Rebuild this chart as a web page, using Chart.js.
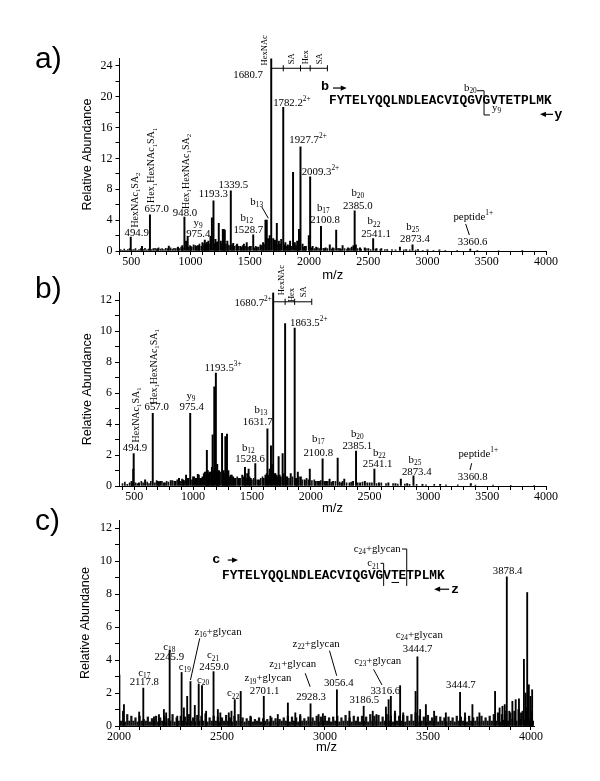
<!DOCTYPE html>
<html><head><meta charset="utf-8">
<script src="https://cdn.jsdelivr.net/npm/chart.js@4.4.1/dist/chart.umd.min.js"></script>
<style>
html,body{margin:0;padding:0;background:#fff;}
#wrap{position:relative;width:600px;height:781px;}
canvas{position:absolute;left:0;top:0;}
</style></head>
<body><div id="wrap">
<canvas id="ca" width="600" height="781"></canvas>
<canvas id="cb" width="600" height="781"></canvas>
<canvas id="cc" width="600" height="781"></canvas>
</div>
<script>
// ---------------- DATA ----------------
// panel a
const aPeakMz = [494.9,590,657.0,720,816,894,930,948.0,962,975.4,1000,1040,1069,1100,1120,1134,1150,1168,1180,1193.3,1210,1225,1238,1255,1272,1281,1289,1310,1339.5,1360,1393,1420,1450,1474,1500,1528.7,1560,1590,1612,1632,1643,1655,1668,1680.7,1697,1712,1728,1745,1765,1782.2,1800,1820,1840,1865,1880,1900,1915,1927.7,1945,1965,1998,2009.3,2030,2060,2100.8,2140,2175,2200,2229,2260,2283,2330,2360,2375,2385.0,2395,2430,2470,2500,2541.1,2570,2610,2660,2767,2820,2873.4,2920,3000,3100,3360.6];
const aPeakInt = [1.8,0.6,4.7,0.3,0.65,0.5,0.7,4.4,1.3,1.9,0.6,0.7,0.7,1.1,1.4,1.1,1.3,1.9,4.3,6.5,1.5,1.2,3.6,1.3,2.8,2.8,2.7,1.3,7.8,1.0,0.9,0.6,0.9,1.1,0.6,2.1,0.5,0.8,1.1,4.0,4.0,1.6,2.0,24.9,1.6,1.4,3.6,1.3,1.5,18.6,1.1,0.8,1.3,10.2,1.1,1.3,2.8,13.5,0.9,0.6,2.0,9.6,0.6,0.5,3.2,0.4,0.8,0.4,2.7,0.3,0.7,0.4,0.5,0.7,5.2,0.8,0.4,0.4,0.3,1.6,0.3,0.3,0.2,0.5,0.2,0.8,0.2,0.15,0.15,0.25];
const aNoiseMz = [410,425,440,455,470,485,505,520,535,550,565,580,600,615,630,645,670,685,700,715,730,745,760,775,790,805,830,845,860,875,890,905,920,935,985,995,1010,1025,1050,1060,1075,1090,1105,1115,1125,1140,1155,1200,1215,1230,1262,1298,1315,1325,1350,1370,1385,1405,1430,1440,1460,1485,1510,1540,1550,1575,1600,1620,1705,1720,1740,1755,1790,1810,1830,1850,1890,1905,1955,1975,2020,2045,2075,2090,2120,2130,2155,2190,2210,2245,2270,2300,2320,2345,2410,2440,2480,2520,2560,2600,2640,2700,2730,2800,2850,2900,2960,3050,3150,3250,3420,3600,3800];
const aNoiseInt = [0.2,0.1,0.25,0.1,0.2,0.3,0.15,0.2,0.3,0.1,0.2,0.3,0.2,0.35,0.15,0.25,0.2,0.3,0.35,0.2,0.4,0.25,0.3,0.2,0.35,0.3,0.4,0.25,0.35,0.3,0.4,0.3,0.5,0.4,0.5,0.7,0.5,0.8,0.6,0.7,0.9,0.6,0.8,1.0,0.9,1.1,0.9,1.0,1.1,0.9,1.0,0.9,0.8,0.7,0.8,0.6,0.7,0.6,0.5,0.7,0.6,0.5,0.6,0.4,0.6,0.5,0.7,0.9,1.0,0.9,0.8,0.9,0.8,0.6,0.7,0.6,0.7,0.6,0.5,0.6,0.4,0.3,0.4,0.3,0.35,0.3,0.3,0.25,0.3,0.35,0.25,0.3,0.25,0.3,0.3,0.25,0.3,0.2,0.25,0.2,0.2,0.2,0.15,0.15,0.15,0.12,0.1,0.1,0.1,0.08,0.08,0.06,0.05];
// panel b
const bPeakMz = [480,491,494.9,540,592,657.0,700,720,760,810,850,880,915,940,960,975.4,1000,1020,1040,1060,1080,1100,1117,1125,1140,1160,1166,1180,1193.5,1205,1220,1246,1260,1274,1288,1300,1320,1340,1360,1390,1418,1441,1460,1472,1490,1528.6,1560,1600,1615,1631.7,1650,1662,1670,1680.7,1695,1710,1727,1745,1761,1782.2,1800,1830,1863.5,1875,1890,1916,1950,1992,2040,2070,2100.8,2130,2160,2190,2229,2260,2285,2330,2360,2385.1,2420,2460,2500,2541.1,2580,2660,2720,2766,2820,2873.4,2950,3100,3360.8];
const bPeakInt = [0.2,1.1,2.1,0.2,0.4,4.7,0.3,0.3,0.2,0.35,0.3,0.5,0.4,0.7,0.5,4.7,0.6,0.5,0.75,0.5,0.6,0.9,2.3,1.0,0.9,1.2,3.3,6.4,7.3,1.4,1.0,3.4,1.0,3.2,3.35,1.0,0.7,0.6,0.5,0.5,0.7,1.2,0.8,1.1,0.5,1.45,0.4,0.5,0.7,3.7,1.1,2.6,1.4,12.5,0.8,0.7,1.9,0.6,2.1,10.5,0.6,0.8,10.2,0.5,0.9,0.6,0.4,1.1,0.3,0.3,1.75,0.3,0.45,0.3,1.8,0.2,0.45,0.2,0.3,2.25,0.2,0.3,0.2,1.1,0.2,0.2,0.15,0.45,0.15,0.65,0.1,0.1,0.15];
const bNoiseMz = [400,420,440,460,475,510,525,560,575,610,625,640,675,690,710,735,750,775,790,825,840,865,895,905,925,950,990,1010,1030,1050,1070,1090,1110,1132,1150,1172,1200,1212,1230,1253,1267,1280,1295,1310,1330,1350,1375,1400,1430,1450,1480,1500,1515,1545,1575,1590,1625,1640,1700,1718,1737,1770,1790,1815,1845,1880,1900,1930,1965,1980,2010,2030,2055,2085,2115,2145,2175,2210,2245,2270,2305,2345,2400,2440,2480,2520,2560,2600,2640,2700,2740,2800,2840,2900,2980,3050,3150,3250,3400,3550,3700,3900];
const bNoiseInt = [0.15,0.25,0.1,0.2,0.3,0.2,0.15,0.3,0.2,0.25,0.15,0.3,0.2,0.35,0.25,0.3,0.2,0.3,0.25,0.35,0.3,0.4,0.3,0.45,0.35,0.5,0.4,0.6,0.5,0.7,0.5,0.8,0.9,0.8,0.9,1.0,0.9,0.8,0.9,0.7,0.8,0.7,0.9,0.6,0.7,0.5,0.6,0.5,0.6,0.5,0.6,0.4,0.5,0.4,0.5,0.6,0.8,0.7,0.8,0.6,0.7,0.8,0.6,0.5,0.6,0.5,0.6,0.4,0.5,0.4,0.35,0.4,0.3,0.35,0.3,0.3,0.25,0.3,0.25,0.3,0.2,0.25,0.2,0.25,0.2,0.2,0.15,0.2,0.15,0.15,0.12,0.12,0.1,0.1,0.08,0.1,0.08,0.08,0.06,0.06,0.05,0.05];
// panel c
const cPeakMz = [2002,2024,2098,2118,2170,2194,2218,2229,2246,2283,2304,2315,2331,2347,2368,2387,2403,2423,2459,2480,2492,2533,2546,2562,2591,2638,2703,2735,2771,2820,2856,2880,2930,2969,2990,3058,3119,3188,3232,3250,3296,3309,3320,3340,3365,3380,3440,3449,3462,3490,3530,3587,3656,3680,3716,3750,3826,3848,3862,3873,3883,3895,3910,3926,3942,3952,3966,3974,3982,3990,3998,4006];
const cPeakInt = [3.1,1.3,0.85,2.3,0.55,0.7,1.0,0.8,4.6,0.6,3.25,1.1,1.8,2.7,1.25,2.55,2.45,0.9,3.3,1.0,0.8,0.8,0.9,1.6,2.1,0.6,1.8,0.6,0.7,1.4,0.8,0.7,1.35,0.7,0.75,2.2,0.9,1.2,0.9,0.7,1.15,1.6,1.8,0.9,2.45,0.8,2.1,4.2,1.0,1.3,0.9,0.8,2.05,0.8,1.3,0.8,2.1,1.1,1.2,1.3,9.05,0.9,1.5,1.6,1.65,0.8,4.05,2.0,8.1,2.5,1.8,2.2];
const cNoiseMz = [
2000,2010,2020,2030,2040,2050,2060,2070,2080,2090,2100,2110,2120,2130,2140,2150,2160,2170,2180,2190,
2200,2210,2220,2230,2240,2250,2260,2270,2280,2290,2300,2310,2320,2330,2340,2350,2360,2370,2380,2390,
2400,2410,2420,2430,2440,2450,2460,2470,2480,2490,2500,2510,2520,2530,2540,2550,2560,2570,2580,2590,
2600,2610,2620,2630,2640,2650,2660,2670,2680,2690,2700,2710,2720,2730,2740,2750,2760,2770,2780,2790,
2800,2810,2820,2830,2840,2850,2860,2870,2880,2890,2900,2910,2920,2930,2940,2950,2960,2970,2980,2990,
3000,3010,3020,3030,3040,3050,3060,3070,3080,3090,3100,3110,3120,3130,3140,3150,3160,3170,3180,3190,
3200,3210,3220,3230,3240,3250,3260,3270,3280,3290,3300,3310,3320,3330,3340,3350,3360,3370,3380,3390,
3400,3410,3420,3430,3440,3450,3460,3470,3480,3490,3500,3510,3520,3530,3540,3550,3560,3570,3580,3590,
3600,3610,3620,3630,3640,3650,3660,3670,3680,3690,3700,3710,3720,3730,3740,3750,3760,3770,3780,3790,
3800,3810,3820,3830,3840,3850,3860,3870,3880,3890,3900,3910,3920,3930,3940,3950,3960,3970,3980,3990,
4000,4010];
const cNoiseInt = [
1.0,0.3,0.9,0.25,0.7,0.3,0.6,0.3,0.5,0.25,0.6,0.3,0.4,0.3,0.55,0.25,0.45,0.3,0.6,0.25,
0.5,0.3,0.6,0.25,0.45,0.3,0.7,0.25,0.5,0.3,0.6,0.3,0.55,0.25,0.7,0.3,0.5,0.25,0.65,0.3,
0.6,0.3,0.75,0.25,0.5,0.3,0.6,0.3,0.55,0.25,0.5,0.3,0.65,0.3,0.5,0.25,0.6,0.3,0.7,0.3,
0.5,0.25,0.45,0.3,0.55,0.25,0.4,0.3,0.5,0.25,0.45,0.3,0.4,0.25,0.5,0.3,0.45,0.25,0.4,0.3,
0.5,0.3,0.6,0.25,0.55,0.3,0.5,0.25,0.6,0.3,0.45,0.3,0.55,0.25,0.5,0.3,0.6,0.25,0.55,0.3,
0.6,0.3,0.5,0.25,0.55,0.3,0.6,0.25,0.5,0.3,0.65,0.3,0.5,0.25,0.6,0.3,0.55,0.25,0.6,0.3,
0.55,0.25,0.7,0.3,0.6,0.3,0.65,0.25,0.55,0.3,0.7,0.3,0.6,0.25,0.75,0.3,0.6,0.3,0.65,0.25,
0.6,0.3,0.7,0.3,0.8,0.25,0.6,0.3,0.55,0.25,0.65,0.3,0.5,0.3,0.6,0.25,0.55,0.3,0.5,0.25,
0.55,0.3,0.5,0.25,0.6,0.3,0.55,0.3,0.5,0.25,0.6,0.3,0.5,0.3,0.55,0.25,0.6,0.3,0.5,0.3,
0.6,0.3,0.7,0.3,0.8,0.25,0.7,0.35,0.9,0.3,0.8,0.4,0.9,0.3,1.0,0.4,0.9,0.35,1.1,0.4,
0.9,0.3];

// tick label rules
const xMajorStep = 500, xMinorStep = 100;

// annotations: [text, m/z, abundance, align, kind]
const aLabels = [
 ['HexNAc_{1}SA_{2}',531,6.6,'c','v'],
 ['Hex_{1}HexNAc_{1}SA_{1}',672,11.1,'c','v'],
 ['657.0',714,5.44],['494.9',545,2.33],
 ['Hex_{1}HexNAc_{1}SA_{2}',967,10.3,'c','v'],
 ['948.0',953,4.92],['y_{9}',1063,3.63],['975.4',1065,2.2],
 ['1193.3',1192,7.35],['1339.5',1361,8.55],
 ['b_{13}',1558,6.39],['b_{12}',1474,4.24],['1528.7',1487,2.72],
 ['1680.7',1611,22.8,'r'],
 ['HexNAc',1628,26.0,'c','s'],['SA',1856,24.9,'c','s'],['Hex',1974,25.1,'c','s'],['SA',2087,24.9,'c','s'],
 ['1782.2^{2+}',1697,19.17,'l'],['1927.7^{2+}',1833,14.38,'l'],['2009.3^{2+}',1938,10.27,'l'],
 ['b_{17}',2120,5.53],['2100.8',2135,4.02],
 ['b_{20}',2411,7.55],['2385.0',2411,5.83],
 ['b_{22}',2548,3.8],['2541.1',2565,2.2],
 ['b_{25}',2875,3.07],['2873.4',2894,1.55],
 ['peptide^{1+}',3386,4.44],['3360.6',3381,1.08],
 ['b',2135,21.35,'c','mb'],
 ['FYTELYQQLNDLEACVIQGVGVTETPLMK',2168,19.43,'l','m'],
 ['b_{20}',3362,21.15],['y_{9}',3544,18.56,'l'],
 ['y',4104,17.7,'c','mb']
];
const aLines = [
 [[1680.7,23.67],[2154.8,23.67]],
 [[1782.2,23.27],[1782.2,24.07]],[[1927.7,23.27],[1927.7,24.07]],[[2009.3,23.27],[2009.3,24.07]],[[2154.8,23.27],[2154.8,24.07]],
 [[1600,5.74],[1656,4.24]],
 [[3322,3.5],[3353,2.07]],
 [[3417,20.76],[3477,20.76],[3477,17.62],[3527,17.62]]
];
const aArrows = [[[2202,21.11],[2318,21.11]],[[4059,17.7],[3949,17.7]]];

const bLabels = [
 ['HexNAc_{1}SA_{1}',520,4.59,'c','v'],['494.9',506,2.47],
 ['Hex_{1}HexNAc_{1}SA_{1}',668,7.71,'c','v'],['657.0',690,5.12],
 ['y_{9}',982,5.81],['975.4',988,5.08],
 ['1193.5^{3+}',1097,7.6,'l'],
 ['b_{13}',1577,4.91],['1631.7',1549,4.15],
 ['b_{12}',1469,2.44],['1528.6',1484,1.72],
 ['1680.7^{2+}',1670,11.8,'r'],
 ['HexNAc',1750,13.3,'c','s'],['Hex',1838,12.34,'c','s'],['SA',1943,12.55,'c','s'],
 ['1863.5^{2+}',1824,10.51,'l'],
 ['b_{17}',2064,3.02],['2100.8',2064,2.15],
 ['b_{20}',2396,3.36],['2385.1',2396,2.6],
 ['b_{22}',2583,2.11],['2541.1',2569,1.4],
 ['b_{25}',2886,1.68],['2873.4',2901,0.92],
 ['peptide^{1+}',3424,2.05],['3360.8',3377,0.56]
];
const bLines = [
 [[1680.7,11.9],[2008.7,11.9]],
 [[1782.2,11.7],[1782.2,12.1]],[[1863.2,11.7],[1863.2,12.1]],[[2008.7,11.7],[2008.7,12.1]],
 [[3368,1.47],[3354,1.03]]
];
const bArrows = [];

const cLabels = [
 ['c_{17}',2123,3.23],['2117.8',2123,2.63],
 ['c_{18}',2244,4.81],['2245.9',2244,4.2],
 ['z_{16}+glycan',2481,5.72],
 ['c_{19}',2320,3.6],['c_{21}',2457,4.27],['2459.0',2462,3.6],
 ['c_{20}',2408,2.79],['c_{22}',2554,1.98],
 ['z_{19}+glycan',2723,2.89],['2701.1',2707,2.12],
 ['z_{21}+glycan',2843,3.76],['2928.3',2933,1.74],
 ['z_{22}+glycan',2957,4.98],['3056.4',3067,2.59],
 ['c_{23}+glycan',3256,3.94],['3316.6',3293,2.14],['3186.5',3191,1.54],
 ['c_{24}+glycan',3458,5.52],['3444.7',3450,4.65],
 ['3444.7',3660,2.45],['3878.4',3887,9.41],
 ['c',2473,10.07,'c','mb'],
 ['FYTELYQQLNDLEACVIQGVGVTETPLMK',2500,9.1,'l','m'],
 ['c_{24}+glycan',3368,10.74,'r'],['c_{21}',3264,9.87,'r'],
 ['z',3632,8.3,'c','mb']
];
const cLines = [
 [[2392,5.32],[2347,2.79]],
 [[2904,3.2],[2928,2.38]],
 [[3022,4.57],[3057,3.05]],
 [[3236,3.44],[3277,2.49]],
 [[3374,10.74],[3397,10.74],[3397,8.5]],
 [[3270,9.87],[3285,9.87],[3285,8.5]],
 [[3323,8.71],[3360,8.71]]
];
const cArrows = [[[2528,10.07],[2578,10.07]],[[3603,8.3],[3530,8.3]]];

// ---------------- DRAWING HELPERS ----------------
const SERIF = '"Liberation Serif", serif', MONO = '"Liberation Mono", monospace', SANS = '"Liberation Sans", sans-serif';
const KINDS = {
  n:{fam:SERIF,size:10.8,w:'',rot:false},
  v:{fam:SERIF,size:10,w:'',rot:true},
  s:{fam:SERIF,size:8.5,w:'',rot:true},
  m:{fam:MONO,size:12.8,w:'bold ',rot:false},
  mb:{fam:MONO,size:13.5,w:'bold ',rot:false}
};
function parseRich(s){
  const out=[]; const re=/([_^])\{([^}]*)\}/g; let last=0,m;
  while((m=re.exec(s))){ if(m.index>last) out.push({t:s.slice(last,m.index),k:0}); out.push({t:m[2],k:m[1]==='_'?1:2}); last=re.lastIndex; }
  if(last<s.length) out.push({t:s.slice(last),k:0});
  return out;
}
function drawRich(ctx, str, x, y, align, kind){
  const K = KINDS[kind||'n'];
  const segs = parseRich(str);
  let w = 0;
  segs.forEach(sg=>{ const sz = sg.k? K.size*0.68 : K.size; sg.font = K.w + sz + 'px ' + K.fam; ctx.font = sg.font; sg.w = ctx.measureText(sg.t).width; w += sg.w; });
  ctx.save(); ctx.translate(x,y); if(K.rot) ctx.rotate(-Math.PI/2);
  let sx = align==='l'?0:(align==='r'?-w:-w/2);
  ctx.textBaseline='middle'; ctx.textAlign='left';
  segs.forEach(sg=>{ const dy = sg.k===1? K.size*0.3 : (sg.k===2? -K.size*0.35 : 0); ctx.font=sg.font; ctx.fillText(sg.t, sx, dy); sx += sg.w; });
  ctx.restore();
}
const annotPlugin = {
  id:'annot',
  afterDraw(chart, args, o){
    const ctx = chart.ctx, xs = chart.scales.x, ys = chart.scales.y;
    const X = v=>xs.getPixelForValue(v), Y = v=>ys.getPixelForValue(v);
    ctx.save();
    ctx.fillStyle='#000'; ctx.strokeStyle='#000';
    if(o.letter){ ctx.font='30px '+SANS; ctx.textBaseline='alphabetic'; ctx.textAlign='left';
      ctx.fillText(o.letter.t, chart.chartArea.left+o.letter.dx, chart.chartArea.top+o.letter.dy); }
    ctx.lineWidth=1;
    (o.lines||[]).forEach(pl=>{ ctx.beginPath(); pl.forEach((p,i)=>{ const px=X(p[0]),py=Y(p[1]); if(i) ctx.lineTo(px,py); else ctx.moveTo(px,py); }); ctx.stroke(); });
    (o.arrows||[]).forEach(a=>{
      const x0=X(a[0][0]),y0=Y(a[0][1]),x1=X(a[1][0]),y1=Y(a[1][1]);
      const ang=Math.atan2(y1-y0,x1-x0), L=6, W=2.6;
      ctx.lineWidth=1.2; ctx.beginPath(); ctx.moveTo(x0,y0); ctx.lineTo(x1-Math.cos(ang)*L*0.8,y1-Math.sin(ang)*L*0.8); ctx.stroke();
      ctx.beginPath(); ctx.moveTo(x1,y1);
      ctx.lineTo(x1-Math.cos(ang)*L+Math.sin(ang)*W, y1-Math.sin(ang)*L-Math.cos(ang)*W);
      ctx.lineTo(x1-Math.cos(ang)*L-Math.sin(ang)*W, y1-Math.sin(ang)*L+Math.cos(ang)*W);
      ctx.closePath(); ctx.fill(); ctx.lineWidth=1;
    });
    (o.texts||[]).forEach(t=>drawRich(ctx, t[0], X(t[1]), Y(t[2]), t[3]||'c', t[4]||'n'));
    ctx.restore();
  }
};
function pairs(xs, ys){ const n=Math.min(xs.length, ys.length), out=[]; for(let i=0;i<n;i++) out.push({x:xs[i], y:ys[i]}); return out; }

function makePanel(id, p){
  const datasets = [
    {type:'bar', data:pairs(p.peakMz,p.peakInt), backgroundColor:'#000', borderWidth:0, barThickness:p.barW, grouped:false, order:0},
    {type:'bar', data:pairs(p.noiseMz,p.noiseInt), backgroundColor:'#111', borderWidth:0, barThickness:p.noiseW, grouped:false, order:1}
  ];
  return new Chart(document.getElementById(id), {
    type:'bar',
    data:{datasets},
    options:{
      responsive:false, animation:false, devicePixelRatio:1,
      layout:{padding:p.pad},
      plugins:{legend:{display:false}, tooltip:{enabled:false},
        annot:{texts:p.texts, lines:p.lines, arrows:p.arrows, letter:p.letter}},
      scales:{
        x:{type:'linear', min:p.xmin, max:p.xmax, offset:false, position:'bottom',
          afterFit:s=>{s.height=p.xh;},
          border:{display:true,color:'#000',width:1},
          grid:{display:true,drawOnChartArea:false,drawTicks:true,tickLength:4,color:'#000',lineWidth:1,offset:false},
          ticks:{stepSize:xMinorStep, autoSkip:false, maxRotation:0, minRotation:0, includeBounds:false, padding:0, color:'#000',
            font:{family:SERIF,size:12}, callback:v=>(Math.abs(v % xMajorStep)<1e-6? String(v):'')},
          title:{display:true,text:'m/z',color:'#000',font:{family:SANS,size:13},padding:{top:0,bottom:0}}
        },
        y:{type:'linear', min:0, max:p.ymax, afterFit:s=>{s.width=p.yw;},
          border:{display:true,color:'#000',width:1},
          grid:{display:true,drawOnChartArea:false,drawTicks:true,tickLength:4,color:'#000',lineWidth:1},
          ticks:{stepSize:p.ystep, autoSkip:false, includeBounds:false, padding:3, color:'#000',
            font:{family:SERIF,size:12}, callback:v=>(Math.abs(v % p.ylab)<1e-9? String(v):'')},
          title:{display:true,text:'Relative Abundance',color:'#000',font:{family:SANS,size:12.5},padding:{top:p.ytp,bottom:0}}
        }
      }
    },
    plugins:[annotPlugin]
  });
}

makePanel('ca', {peakMz:aPeakMz, peakInt:aPeakInt, noiseMz:aNoiseMz, noiseInt:aNoiseInt, barW:1.3, noiseW:1,
  xmin:400, xmax:4000, ymax:25, ystep:2, ylab:4, yw:119.5, xh:31.8, ytp:80.5,
  pad:{left:0,top:58,right:54,bottom:498.2},
  texts:aLabels, lines:aLines, arrows:aArrows, letter:{t:'a)',dx:-84.5,dy:10}});
makePanel('cb', {peakMz:bPeakMz, peakInt:bPeakInt, noiseMz:bNoiseMz, noiseInt:bNoiseInt, barW:1.3, noiseW:1,
  xmin:370, xmax:4000, ymax:12.5, ystep:1, ylab:2, yw:119, xh:29.8, ytp:80.5,
  pad:{left:0,top:292.5,right:54,bottom:265.2},
  texts:bLabels, lines:bLines, arrows:bArrows, letter:{t:'b)',dx:-84,dy:5}});
makePanel('cc', {peakMz:cPeakMz, peakInt:cPeakInt, noiseMz:cNoiseMz, noiseInt:cNoiseInt, barW:1.2, noiseW:1.6,
  xmin:2000, xmax:4015, ymax:12.5, ystep:1, ylab:2, yw:119, xh:29.1, ytp:78.5,
  pad:{left:0,top:520,right:66,bottom:25.9},
  texts:cLabels, lines:cLines, arrows:cArrows, letter:{t:'c)',dx:-84,dy:10}});
</script>
</body></html>
